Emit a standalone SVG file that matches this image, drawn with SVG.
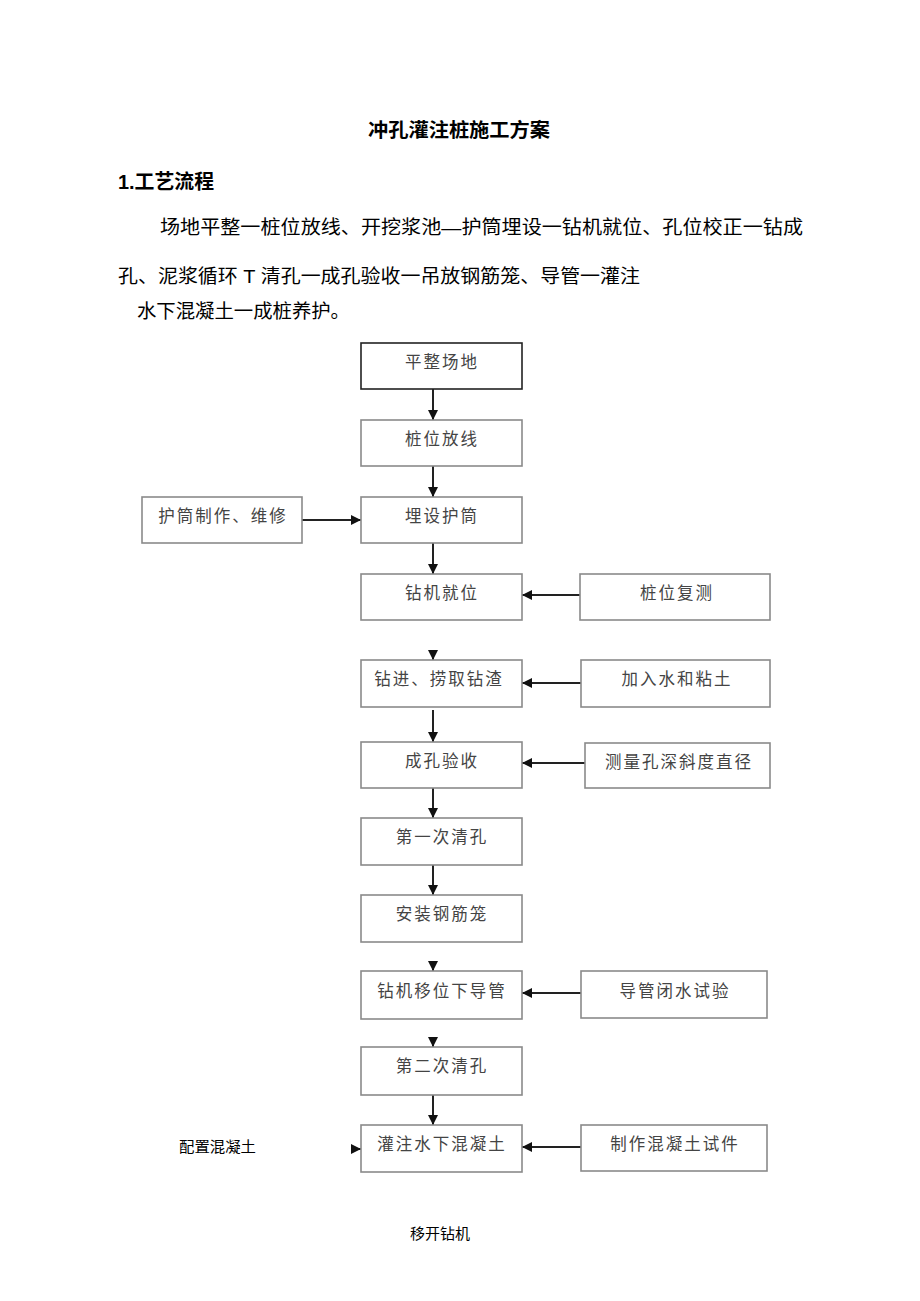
<svg xmlns="http://www.w3.org/2000/svg" width="920" height="1301" viewBox="0 0 920 1301">
<style>
.bg{fill:#fff}
.box{fill:#fff;stroke:#8a8a8a;stroke-width:1.6}
.box.dark{stroke:#222}
.bt{font-family:"Noto Sans CJK SC","Liberation Sans",sans-serif;font-size:16.5px;fill:#444;text-anchor:middle;letter-spacing:2px}
.ln{stroke:#222;stroke-width:2;fill:none}
.doc{font-family:"Liberation Sans","Noto Sans CJK SC",sans-serif;fill:#000}
</style>
<defs>
<marker id="ah" viewBox="0 0 10 10" refX="10" refY="5" markerWidth="5" markerHeight="5" orient="auto" markerUnits="strokeWidth">
<path d="M0,0 L10,5 L0,10 z" fill="#111"/>
</marker>
</defs>
<rect class="bg" x="0" y="0" width="920" height="1301"/>

<g id="texts">
<text class="doc" x="368" y="137" font-size="19.5" font-weight="bold" textLength="182" lengthAdjust="spacingAndGlyphs">冲孔灌注桩施工方案</text>
<text class="doc" x="118" y="189" font-size="20" font-weight="bold" textLength="96" lengthAdjust="spacingAndGlyphs">1.工艺流程</text>
<text class="doc" x="160" y="234" font-size="19" textLength="643" lengthAdjust="spacingAndGlyphs">场地平整一桩位放线、开挖浆池—护筒埋设一钻机就位、孔位校正一钻成</text>
<text class="doc" x="118" y="283" font-size="19" textLength="522" lengthAdjust="spacingAndGlyphs">孔、泥浆循环 T 清孔一成孔验收一吊放钢筋笼、导管一灌注</text>
<text class="doc" x="137" y="318" font-size="19" textLength="213" lengthAdjust="spacingAndGlyphs">水下混凝土一成桩养护。</text>
<text class="doc" x="179" y="1152" font-size="15" textLength="77" lengthAdjust="spacingAndGlyphs">配置混凝土</text>
<text class="doc" x="410" y="1239" font-size="15" textLength="60" lengthAdjust="spacingAndGlyphs">移开钻机</text>
</g>

<g id="connectors">
<line class="ln" x1="433" y1="389" x2="433" y2="420" marker-end="url(#ah)"/>
<line class="ln" x1="433" y1="466" x2="433" y2="497" marker-end="url(#ah)"/>
<line class="ln" x1="433" y1="543" x2="433" y2="574" marker-end="url(#ah)"/>
<line class="ln" x1="433" y1="653" x2="433" y2="660" marker-end="url(#ah)"/>
<line class="ln" x1="433" y1="710" x2="433" y2="742" marker-end="url(#ah)"/>
<line class="ln" x1="433" y1="788" x2="433" y2="818" marker-end="url(#ah)"/>
<line class="ln" x1="433" y1="865" x2="433" y2="895" marker-end="url(#ah)"/>
<line class="ln" x1="433" y1="963" x2="433" y2="971" marker-end="url(#ah)"/>
<line class="ln" x1="433" y1="1039" x2="433" y2="1047" marker-end="url(#ah)"/>
<line class="ln" x1="433" y1="1095" x2="433" y2="1125" marker-end="url(#ah)"/>
<line class="ln" x1="302" y1="520" x2="361" y2="520" marker-end="url(#ah)"/>
<line class="ln" x1="580" y1="595" x2="522" y2="595" marker-end="url(#ah)"/>
<line class="ln" x1="581" y1="683" x2="522" y2="683" marker-end="url(#ah)"/>
<line class="ln" x1="585" y1="763" x2="522" y2="763" marker-end="url(#ah)"/>
<line class="ln" x1="581" y1="993" x2="522" y2="993" marker-end="url(#ah)"/>
<line class="ln" x1="581" y1="1147" x2="522" y2="1147" marker-end="url(#ah)"/>
<line class="ln" x1="353" y1="1149" x2="361" y2="1149" marker-end="url(#ah)"/>
</g>

<g id="n1"><rect class="box dark" x="361" y="343" width="161" height="46"/><text class="bt" x="442" y="368">平整场地</text></g>
<g id="n2"><rect class="box" x="361" y="420" width="161" height="46"/><text class="bt" x="442" y="445">桩位放线</text></g>
<g id="n3"><rect class="box" x="361" y="497" width="161" height="46"/><text class="bt" x="442" y="522">埋设护筒</text></g>
<g id="n4"><rect class="box" x="361" y="574" width="161" height="46"/><text class="bt" x="442" y="599">钻机就位</text></g>
<g id="n5"><rect class="box" x="361" y="660" width="161" height="47"/><text class="bt" x="439" y="685">钻进、捞取钻渣</text></g>
<g id="n6"><rect class="box" x="361" y="742" width="161" height="46"/><text class="bt" x="442" y="767">成孔验收</text></g>
<g id="n7"><rect class="box" x="361" y="818" width="161" height="47"/><text class="bt" x="442" y="843">第一次清孔</text></g>
<g id="n8"><rect class="box" x="361" y="895" width="161" height="47"/><text class="bt" x="442" y="920">安装钢筋笼</text></g>
<g id="n9"><rect class="box" x="361" y="971" width="161" height="48"/><text class="bt" x="442" y="997">钻机移位下导管</text></g>
<g id="n10"><rect class="box" x="361" y="1047" width="161" height="48"/><text class="bt" x="442" y="1072">第二次清孔</text></g>
<g id="n11"><rect class="box" x="361" y="1125" width="161" height="47"/><text class="bt" x="442" y="1150">灌注水下混凝土</text></g>

<g id="s1"><rect class="box" x="142" y="497" width="160" height="46"/><text class="bt" x="223" y="522">护筒制作、维修</text></g>
<g id="s2"><rect class="box" x="580" y="574" width="190" height="46"/><text class="bt" x="677" y="599">桩位复测</text></g>
<g id="s3"><rect class="box" x="581" y="660" width="189" height="47"/><text class="bt" x="677" y="685">加入水和粘土</text></g>
<g id="s4"><rect class="box" x="585" y="743" width="185" height="45"/><text class="bt" x="679" y="768">测量孔深斜度直径</text></g>
<g id="s5"><rect class="box" x="581" y="971" width="186" height="47"/><text class="bt" x="675" y="997">导管闭水试验</text></g>
<g id="s6"><rect class="box" x="581" y="1125" width="186" height="46"/><text class="bt" x="675" y="1150">制作混凝土试件</text></g>
</svg>
